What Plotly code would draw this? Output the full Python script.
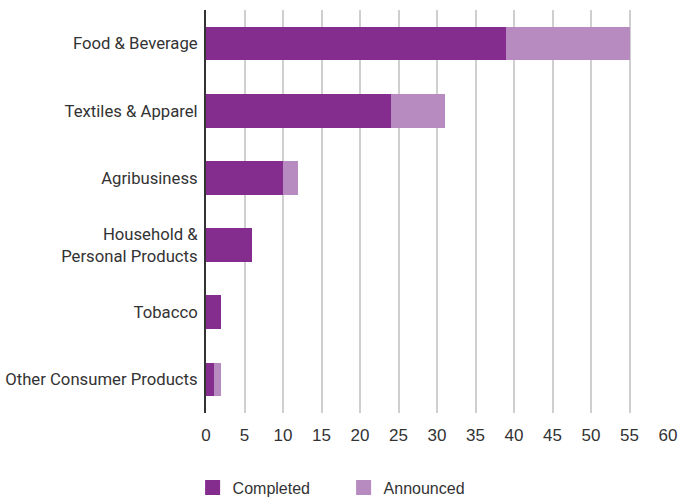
import plotly.graph_objects as go

sectors = ["Food & Beverage", "Textiles & Apparel", "Agribusiness",
           "Household &<br>Personal Products", "Tobacco", "Other Consumer Products"]
completed = [39, 24, 10, 6, 2, 1]
announced = [16, 7, 2, 0, 0, 1]
x_ticks = [0, 5, 10, 15, 20, 25, 30, 35, 40, 45, 50, 55, 60]

series = [("Completed", completed, "#842D8F"), ("Announced", announced, "#B78BC0")]

label_font = "Roboto, sans-serif"
num_font = "Liberation Sans, Arial, sans-serif"

fig = go.Figure()
for name, vals, color in series:
    fig.add_trace(go.Bar(y=sectors, x=vals, name=name, orientation="h", showlegend=False,
                         marker=dict(color=color, line=dict(width=0))))
# legend keys drawn as larger square swatches
for name, vals, color in series:
    fig.add_trace(go.Scatter(x=[None], y=[None], mode="markers", name=name,
                             marker=dict(symbol="square", size=15, color=color)))

fig.update_layout(
    barmode="stack",
    bargap=0.5,
    width=678, height=497,
    margin=dict(l=206, r=10, t=10, b=84, autoexpand=False),
    plot_bgcolor="white", paper_bgcolor="white",
    font=dict(family=label_font, size=16.7, color="#333333"),
    legend=dict(orientation="h", x=-0.029, xanchor="left", y=-0.185, yanchor="middle",
                font=dict(family=num_font, size=16, color="#333333"),
                traceorder="normal", itemwidth=30, itemsizing="trace",
                entrywidth=106, entrywidthmode="pixels"),
    xaxis=dict(range=[0, 60], tickvals=x_ticks, showgrid=True, gridcolor="#cfcfcf",
               gridwidth=1.5, zeroline=False, showline=False, ticks="",
               ticklabelstandoff=10,
               tickfont=dict(family=num_font, size=17, color="#333333")),
    yaxis=dict(autorange="reversed", showline=True, linecolor="#333333", linewidth=2,
               ticks="", ticklabelstandoff=3,
               tickfont=dict(family=label_font, size=16.7, color="#333333")),
)

fig.write_html("out.html")
